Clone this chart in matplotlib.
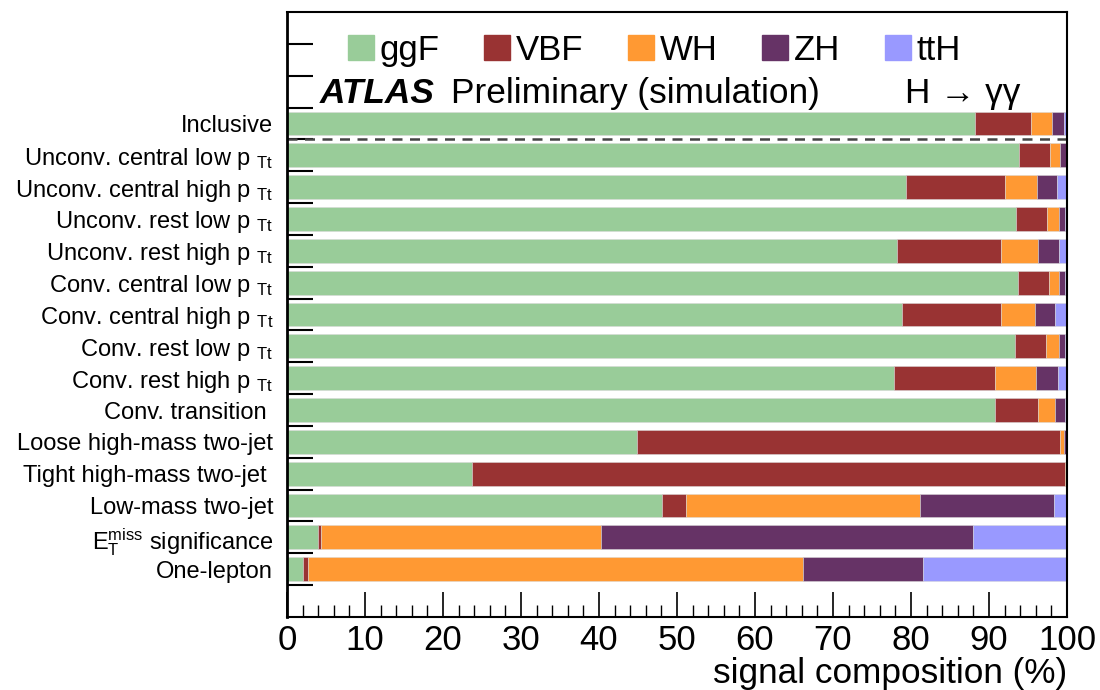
import matplotlib
matplotlib.use("Agg")
from matplotlib import pyplot as plt
from matplotlib.patches import Patch

plt.rcParams["font.family"] = ["Liberation Sans", "DejaVu Sans"]
plt.rcParams["mathtext.fontset"] = "custom"
plt.rcParams["mathtext.rm"] = "Liberation Sans"
plt.rcParams["mathtext.it"] = "Liberation Sans:italic"

categories = [
    "Inclusive",
    r"Unconv. central low p $_\mathregular{Tt}$",
    r"Unconv. central high p $_\mathregular{Tt}$",
    r"Unconv. rest low p $_\mathregular{Tt}$",
    r"Unconv. rest high p $_\mathregular{Tt}$",
    r"Conv. central low p $_\mathregular{Tt}$",
    r"Conv. central high p $_\mathregular{Tt}$",
    r"Conv. rest low p $_\mathregular{Tt}$",
    r"Conv. rest high p $_\mathregular{Tt}$",
    "Conv. transition ",
    "Loose high-mass two-jet",
    "Tight high-mass two-jet ",
    "Low-mass two-jet",
    r"E$_\mathregular{T}^\mathregular{miss}$ significance",
    "One-lepton",
]

processes = ["ggF", "VBF", "WH", "ZH", "ttH"]
colors = ["#99cc99", "#993333", "#ff9933", "#663366", "#9999ff"]

ggF = [88.2, 93.85, 79.4, 93.4, 78.2, 93.7, 78.9, 93.3, 77.8, 90.8, 44.9, 23.7, 48.1, 4.0, 2.05]
VBF = [7.2, 3.95, 12.7, 4.0, 13.3, 4.0, 12.7, 4.0, 13.0, 5.5, 54.25, 76.1, 3.1, 0.4, 0.6]
WH = [2.7, 1.3, 4.0, 1.6, 4.8, 1.3, 4.3, 1.7, 5.2, 2.2, 0.45, 0.1, 29.9, 35.9, 63.45]
ZH = [1.5, 0.75, 2.6, 0.8, 2.7, 0.8, 2.6, 0.8, 2.9, 1.3, 0.3, 0.05, 17.2, 47.7, 15.5]
ttH = [0.4, 0.15, 1.3, 0.2, 1.0, 0.2, 1.5, 0.2, 1.1, 0.2, 0.1, 0.05, 1.7, 12.0, 18.4]

fig = plt.figure(figsize=(11, 6.9), dpi=100)
ax = fig.add_axes([287 / 1100, 73 / 690, 780 / 1100, 605 / 690])

n = len(categories)
ypos = [15.5 - i for i in range(n)]
left = [0.0] * n
for vals, name, col in zip([ggF, VBF, WH, ZH, ttH], processes, colors):
    ax.barh(ypos, vals, left=left, height=0.75, color=col,
            edgecolor=(0.85, 0.85, 0.85, 0.6), linewidth=0.6, label=name)
    left = [l + v for l, v in zip(left, vals)]

# separator below "Inclusive"
ax.axhline(15, color="#444444", lw=1.8, ls=(0, (4, 3)))

ax.set_xlim(0, 100)
ax.set_ylim(0, 19)

ax.set_xticks(range(0, 101, 10))
ax.set_xticks(range(0, 101, 2), minor=True)
ax.tick_params(axis="x", which="major", direction="in", length=18, width=1.2,
               labelsize=25, pad=5, top=False)
ax.tick_params(axis="x", which="minor", direction="in", length=8.5, width=1.0, top=False)

ax.set_yticks(range(1, 19))
ax.set_yticklabels([])
ax.tick_params(axis="y", which="major", direction="in", length=19, width=1.5, right=False)
ax.set_yticks(ypos, categories, minor=True)
ax.tick_params(axis="y", which="minor", length=0, labelsize=17, pad=10)

for s in ax.spines.values():
    s.set_linewidth(1.5)
ax.spines["left"].set_linewidth(2)

ax.set_xlabel("signal composition (%)", fontsize=25.3, loc="right", labelpad=0)

handles = [Patch(facecolor=c, edgecolor=c) for c in colors]
ax.legend(handles, processes, loc="center left", bbox_to_anchor=(0.078, 0.937),
          ncol=5, frameon=False, fontsize=25, handlelength=0.75, handleheight=0.7,
          handletextpad=0.15, columnspacing=1.3, borderpad=0, borderaxespad=0)

ax.text(4.2, 16.13, "ATLAS", fontsize=25.4, fontweight="bold", fontstyle="italic",
        va="baseline")
ax.text(21.0, 16.13, "Preliminary (simulation)", fontsize=25.4, va="baseline")
ax.text(79.2, 16.13, "H \u2192 \u03b3\u03b3", fontsize=25.4, va="baseline")

fig.savefig("out.png", dpi=100)
